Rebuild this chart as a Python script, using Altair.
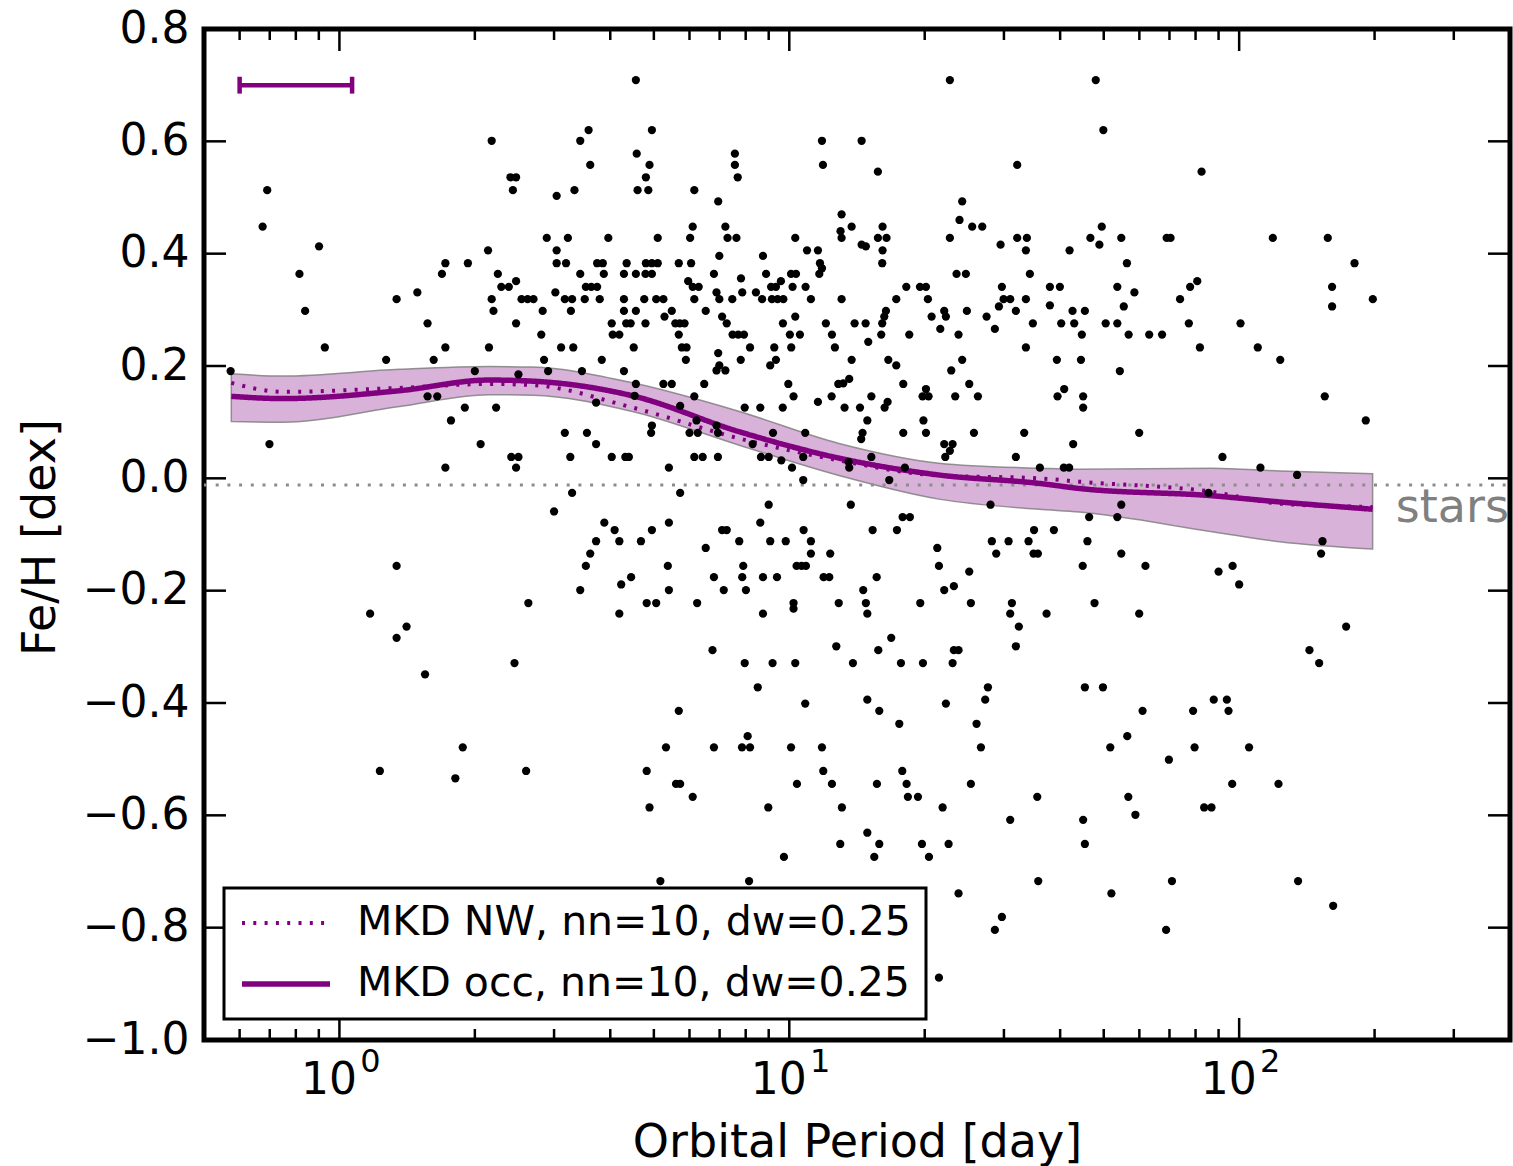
import altair as alt
import pandas as pd

# ---------------- scatter data: orbital period [day], [Fe/H] [dex] ----------------
period_a = [4.56, 2.18, 3.43, 3.58, 4.58, 3.61, 2.40, 2.47, 2.43, 3.04,
            3.33, 4.60, 0.691, 0.675, 0.901, 0.815, 0.839, 0.928, 1.34, 1.49,
            1.57, 1.69, 1.72, 1.93, 2.14, 2.25, 2.29, 2.38, 2.47, 2.18,
            2.20, 2.47, 2.54, 2.62, 2.70, 2.83, 2.81, 2.89, 3.04, 3.22,
            3.04, 3.19, 3.02, 3.17, 3.29, 3.27, 3.43, 3.53, 3.63, 3.74,
            3.51, 3.79, 3.74, 3.85, 3.87, 3.96, 4.35, 4.29, 4.56, 4.29,
            4.29, 4.56, 4.03, 4.05, 4.19, 4.34, 4.44, 4.51, 3.11, 3.31,
            2.85, 3.83, 1.27, 1.62, 1.72, 2.15]
feh_a = [0.709, 0.601, 0.601, 0.620, 0.578, 0.558, 0.536, 0.536, 0.513, 0.503,
         0.513, 0.513, 0.513, 0.448, 0.413, 0.364, 0.298, 0.233, 0.319, 0.331,
         0.276, 0.364, 0.383, 0.383, 0.406, 0.364, 0.341, 0.341, 0.351, 0.319,
         0.298, 0.276, 0.319, 0.319, 0.319, 0.298, 0.256, 0.428, 0.406, 0.428,
         0.383, 0.383, 0.331, 0.319, 0.319, 0.298, 0.364, 0.341, 0.341, 0.341,
         0.319, 0.319, 0.383, 0.383, 0.364, 0.428, 0.383, 0.364, 0.364, 0.319,
         0.298, 0.298, 0.276, 0.256, 0.256, 0.276, 0.276, 0.233, 0.233, 0.233,
         0.211, 0.211, 0.211, 0.211, 0.233, 0.233]

period_b = [22.75, 4.95, 4.89, 4.80, 4.86, 5.10, 6.15, 6.95, 6.10, 6.02,
            7.57, 7.57, 7.68, 7.21, 7.29, 7.63, 6.99, 5.68, 6.05, 4.80,
            4.95, 5.10, 4.79, 4.95, 6.80, 5.96, 6.10, 6.29, 4.76, 5.06,
            5.25, 6.15, 6.89, 6.99, 7.47, 7.81, 7.86, 6.52, 5.48, 5.28,
            4.79, 5.58, 5.71, 5.85, 5.68, 5.77, 5.91, 5.89, 7.09, 7.26,
            7.48, 7.70, 7.93, 8.18, 7.80, 6.95, 8.74, 8.88, 8.43, 8.70,
            9.11, 9.34, 9.58, 9.15, 9.42, 9.70, 9.68, 10.09, 10.35, 10.17,
            10.31, 10.03, 10.56, 10.10, 9.26, 9.34, 10.31, 10.87, 11.17, 10.95,
            11.58, 11.70, 11.82, 11.66, 11.82, 11.88, 13.07, 13.76, 13.00, 13.07,
            14.48, 14.48, 14.80, 15.74, 16.12, 15.74, 16.45, 16.12, 16.09, 13.07,
            12.06, 12.44, 12.63, 13.76, 13.97, 14.78, 14.98, 16.40, 16.26, 16.09,
            16.01, 16.60, 17.29, 18.20, 18.48, 19.52, 20.13, 20.33, 20.72, 21.66,
            22.10, 22.29, 22.75, 23.90, 24.23, 25.50, 26.85, 23.54, 24.69, 24.82,
            23.78, 24.23, 27.45, 28.64, 29.24, 29.69, 29.95, 30.98, 29.49, 32.11,
            32.11, 33.74, 33.57, 34.26, 33.57, 31.89, 34.79, 33.57, 37.96, 39.95,
            37.96, 39.34, 40.22, 41.98, 42.62, 42.99]
feh_b = [0.709, 0.620, 0.558, 0.536, 0.513, 0.428, 0.513, 0.493, 0.448, 0.428,
         0.578, 0.558, 0.536, 0.448, 0.428, 0.428, 0.396, 0.383, 0.383, 0.383,
         0.383, 0.383, 0.364, 0.364, 0.364, 0.351, 0.341, 0.341, 0.319, 0.319,
         0.319, 0.319, 0.331, 0.319, 0.319, 0.356, 0.331, 0.298, 0.298, 0.288,
         0.276, 0.276, 0.276, 0.276, 0.256, 0.233, 0.233, 0.211, 0.288, 0.276,
         0.256, 0.256, 0.256, 0.233, 0.211, 0.223, 0.396, 0.364, 0.331, 0.319,
         0.341, 0.341, 0.351, 0.319, 0.319, 0.319, 0.276, 0.364, 0.364, 0.341,
         0.428, 0.256, 0.256, 0.233, 0.233, 0.211, 0.288, 0.341, 0.319, 0.406,
         0.406, 0.383, 0.374, 0.364, 0.601, 0.558, 0.470, 0.448, 0.440, 0.428,
         0.601, 0.416, 0.413, 0.546, 0.448, 0.428, 0.428, 0.406, 0.383, 0.319,
         0.276, 0.256, 0.233, 0.211, 0.276, 0.276, 0.243, 0.298, 0.288, 0.276,
         0.256, 0.211, 0.319, 0.341, 0.256, 0.341, 0.341, 0.319, 0.288, 0.266,
         0.298, 0.288, 0.428, 0.460, 0.493, 0.448, 0.448, 0.364, 0.364, 0.298,
         0.256, 0.211, 0.288, 0.266, 0.306, 0.341, 0.319, 0.319, 0.416, 0.558,
         0.428, 0.428, 0.406, 0.364, 0.319, 0.298, 0.276, 0.233, 0.341, 0.341,
         0.308, 0.211, 0.276, 0.406, 0.298, 0.276]

period_c = [48.0, 49.9, 82.5, 49.5, 46.7, 48.9, 54.7, 69.0, 70.4, 56.3,
            53.6, 58.5, 55.4, 45.4, 50.5, 53.6, 44.7, 56.8, 63.1, 67.4,
            44.5, 73.9, 77.8, 80.7, 77.3, 81.8, 100.7, 110.0, 123.4, 118.8,
            157.4, 180.5, 160.9, 160.9, 198.2]
feh_c = [0.709, 0.620, 0.546, 0.448, 0.428, 0.416, 0.428, 0.428, 0.428, 0.383,
         0.341, 0.331, 0.306, 0.298, 0.276, 0.276, 0.256, 0.256, 0.256, 0.256,
         0.211, 0.319, 0.341, 0.351, 0.276, 0.233, 0.276, 0.233, 0.211, 0.428,
         0.428, 0.383, 0.341, 0.306, 0.319]

period_d = [0.573, 2.00, 2.50, 2.91, 3.46, 4.29, 4.56, 4.53, 1.57, 1.65,
            1.90, 2.23, 1.77, 2.06, 0.699, 1.72, 2.41, 2.50, 2.47, 3.17,
            3.55, 3.72, 3.26, 3.72, 4.03, 4.32, 4.40, 3.29, 3.00, 3.88,
            4.09, 3.72, 4.19, 3.61, 3.53, 3.43, 4.23, 4.45, 4.19, 2.63,
            2.45, 1.55, 1.34, 1.17, 1.34, 1.41]
feh_d = [0.191, 0.191, 0.185, 0.191, 0.191, 0.191, 0.168, 0.147, 0.146, 0.146,
         0.126, 0.126, 0.103, 0.061, 0.061, 0.019, 0.038, 0.038, 0.019, 0.081,
         0.081, 0.061, 0.038, 0.135, 0.038, 0.038, 0.038, -0.026, -0.059, -0.079,
         -0.092, -0.112, -0.112, -0.134, -0.156, -0.199, -0.189, -0.176, -0.241, -0.222,
         -0.329, -0.349, -0.156, -0.241, -0.284, -0.264]

period_e = [6.99, 6.89, 7.21, 9.07, 17.29, 22.91, 5.25, 5.48, 6.47, 9.95,
            12.85, 13.18, 13.59, 17.92, 25.12, 6.15, 10.22, 12.42, 15.22, 20.13,
            19.78, 20.40, 23.38, 26.26, 39.47, 40.84, 5.72, 7.96, 8.62, 9.67,
            11.58, 13.27, 14.36, 16.29, 16.54, 14.91, 19.87, 6.22, 4.95, 4.93,
            6.00, 6.26, 6.89, 6.94, 9.20, 10.85, 14.55, 14.45, 17.92, 20.13,
            25.73, 33.28, 42.76, 8.29, 22.10, 23.07, 22.75, 22.22, 6.15, 6.42,
            6.94, 8.65, 9.00, 9.60, 10.74, 10.14, 13.55, 13.59, 15.22, 5.40,
            18.07, 31.89, 36.06, 40.76, 41.89, 10.74, 16.68, 5.72, 9.00, 13.70,
            28.01, 5.40, 8.62, 4.95, 7.09, 7.26, 10.76, 15.32, 17.35, 17.86,
            18.54, 4.68, 7.74, 9.07, 9.82, 11.17, 11.17, 12.33, 6.52, 5.37,
            7.90, 10.38, 10.65, 10.89, 6.80, 7.86, 8.74, 9.39, 11.92, 12.27,
            15.64, 5.40, 7.15, 8.01, 4.82, 5.06, 6.24, 10.22, 10.22, 12.88,
            14.60, 14.80, 14.91, 8.74, 19.55, 21.33, 21.51, 22.10, 23.22, 25.12,
            25.33, 28.20, 30.72, 28.84, 34.03, 34.91, 35.70, 35.00, 38.74, 31.25,
            30.98, 32.38, 31.89, 37.32, 6.75, 7.96, 9.18, 10.31, 8.51, 12.72,
            15.77, 16.85, 13.85, 17.71, 19.82, 23.07, 23.22, 23.78, 27.64, 27.26,
            14.91, 10.85, 22.29]
feh_e = [0.201, 0.192, 0.192, 0.201, 0.201, 0.192, 0.168, 0.168, 0.168, 0.168,
         0.168, 0.169, 0.177, 0.168, 0.168, 0.146, 0.146, 0.146, 0.146, 0.159,
         0.146, 0.146, 0.146, 0.146, 0.146, 0.159, 0.129, 0.126, 0.126, 0.126,
         0.136, 0.126, 0.126, 0.126, 0.136, 0.103, 0.103, 0.103, 0.094, 0.081,
         0.081, 0.081, 0.094, 0.081, 0.081, 0.081, 0.081, 0.070, 0.081, 0.081,
         0.081, 0.081, 0.061, 0.061, 0.061, 0.061, 0.049, 0.038, 0.038, 0.038,
         0.038, 0.038, 0.038, 0.032, 0.038, 0.019, 0.029, 0.019, 0.038, 0.019,
         0.019, 0.038, 0.019, 0.019, 0.019, -0.003, -0.003, -0.026, -0.047, -0.047,
         -0.047, -0.079, -0.079, -0.092, -0.092, -0.092, -0.092, -0.092, -0.092, -0.069,
         -0.069, -0.112, -0.112, -0.112, -0.112, -0.112, -0.134, -0.134, -0.124, -0.156,
         -0.156, -0.156, -0.156, -0.156, -0.176, -0.176, -0.176, -0.176, -0.176, -0.176,
         -0.176, -0.199, -0.199, -0.199, -0.222, -0.222, -0.222, -0.222, -0.232, -0.222,
         -0.199, -0.222, -0.241, -0.241, -0.222, -0.124, -0.156, -0.199, -0.192, -0.166,
         -0.222, -0.112, -0.112, -0.134, -0.112, -0.134, -0.134, -0.092, -0.092, -0.222,
         -0.241, -0.264, -0.299, -0.241, -0.306, -0.329, -0.329, -0.329, -0.372, -0.299,
         -0.306, -0.284, -0.329, -0.329, -0.329, -0.329, -0.306, -0.306, -0.372, -0.394,
         -0.394, -0.401, -0.401]

period_f = [54.3, 45.0, 45.0, 155.0, 191.2, 59.95, 91.8, 111.5, 134.5, 85.5,
            54.7, 46.4, 53.6, 46.0, 54.7, 44.9, 61.9, 90.0, 96.7, 100.0,
            153.2, 152.1, 47.7, 59.95, 172.9, 143.3, 150.6, 45.4, 49.8, 87.8,
            93.9]
feh_f = [0.191, 0.146, 0.126, 0.146, 0.103, 0.081, 0.038, 0.019, 0.006, -0.026,
         -0.047, -0.069, -0.069, -0.112, -0.134, -0.156, -0.156, -0.166, -0.156, -0.189,
         -0.112, -0.134, -0.222, -0.241, -0.264, -0.306, -0.329, -0.372, -0.372, -0.394,
         -0.394]

period_g = [1.23, 1.81, 1.88, 2.60]
feh_g = [-0.521, -0.534, -0.479, -0.521]

period_h = [5.68, 15.85, 17.56, 26.08, 26.67, 8.08, 5.32, 6.80, 7.85, 8.18,
            10.09, 11.82, 4.82, 5.60, 5.72, 6.10, 4.89, 8.98, 10.40, 11.90,
            12.44, 13.09, 15.66, 17.83, 18.23, 18.35, 19.32, 21.92, 25.33, 30.98,
            35.58, 14.91, 12.98, 15.85, 15.45, 19.72, 20.44, 22.60, 9.73, 5.17,
            8.14, 23.78, 35.76, 29.69, 28.64, 21.51]
feh_h = [-0.414, -0.414, -0.437, -0.437, -0.479, -0.459, -0.479, -0.479, -0.479, -0.479,
         -0.479, -0.479, -0.521, -0.544, -0.544, -0.567, -0.586, -0.586, -0.544, -0.521,
         -0.544, -0.586, -0.544, -0.521, -0.544, -0.567, -0.567, -0.586, -0.544, -0.608,
         -0.567, -0.631, -0.651, -0.651, -0.674, -0.651, -0.674, -0.651, -0.674, -0.717,
         -0.717, -0.739, -0.717, -0.781, -0.804, -0.889]

period_i = [61.0, 79.0, 94.7, 56.4, 51.7, 79.6, 105.2, 69.8, 96.5, 122.3,
            56.7, 58.8, 83.6, 86.8, 45.0, 45.4, 70.9, 52.0, 135.2, 161.8,
            68.8]
feh_i = [-0.414, -0.414, -0.414, -0.459, -0.479, -0.479, -0.479, -0.501, -0.544, -0.544,
         -0.567, -0.599, -0.586, -0.586, -0.608, -0.651, -0.717, -0.739, -0.717, -0.761,
         -0.804]

# ---------------- smoothed curves ----------------
curve_period = [0.575, 0.748, 1.36, 2.15, 2.69, 4.48, 7.74, 12.9, 21.5, 35.9, 44.1, 87.1, 123.0, 198.0]
occ_curve = [0.146, 0.142, 0.156, 0.175, 0.173, 0.147, 0.083, 0.036, 0.006, -0.009, -0.018, -0.031, -0.042, -0.055]
nw_curve = [0.170, 0.154, 0.161, 0.168, 0.166, 0.126, 0.071, 0.032, 0.005, 0.000, -0.006, -0.024, -0.045, -0.051]
band_lo = [0.101, 0.100, 0.128, 0.149, 0.148, 0.119, 0.059, 0.005, -0.037, -0.055, -0.060, -0.095, -0.113, -0.126]
band_hi = [0.186, 0.182, 0.194, 0.199, 0.198, 0.170, 0.119, 0.062, 0.027, 0.018, 0.016, 0.018, 0.013, 0.008]

series_names = ["MKD NW, nn=10, dw=0.25", "MKD occ, nn=10, dw=0.25"]

# stellar reference level and label
stars_level = [-0.012]
stars_label_period = [223.0]
stars_label_feh = [-0.077]

# kernel-width bar (dw=0.25 dex in log period)
bar_lo = [0.6]
bar_hi = [1.067]
bar_feh = [0.70]

# axis ticks and labels
x_major = [1, 10, 100]
x_exponents = ["0", "1", "2"]
x_minor = [0.6, 0.7, 0.8, 0.9, 2, 3, 4, 5, 6, 7, 8, 9, 20, 30, 40, 50, 60, 70, 80, 90, 200, 300]
y_major = [-0.8, -0.6, -0.4, -0.2, 0.0, 0.2, 0.4, 0.6]
y_labels = [-1.0, -0.8, -0.6, -0.4, -0.2, 0.0, 0.2, 0.4, 0.6, 0.8]

# ---------------- build tables ----------------
frames = []
for p, f in [(period_a, feh_a), (period_b, feh_b), (period_c, feh_c), (period_d, feh_d),
             (period_e, feh_e), (period_f, feh_f), (period_g, feh_g), (period_h, feh_h),
             (period_i, feh_i)]:
    frames.append(pd.DataFrame({"period": p, "feh": f}))
points = pd.concat(frames, ignore_index=True)

curves = pd.DataFrame({
    "period": curve_period * 2,
    "feh": nw_curve + occ_curve,
    "series": [series_names[0]] * len(curve_period) + [series_names[1]] * len(curve_period),
})
band = pd.DataFrame({"period": curve_period, "lo": band_lo, "hi": band_hi})

W, H = 1306, 1011
PURPLE = "#800080"
FONT = "DejaVu Sans"

xscale = alt.Scale(type="log", domain=[0.5, 400], nice=False)
yscale = alt.Scale(domain=[-1.0, 0.8], nice=False, zero=False)

x_axis = alt.Axis(values=x_major, labelExpr="'10'", ticks=False, domain=False, grid=False,
                  labelFontSize=44, labelFont=FONT, labelColor="black", labelPadding=18,
                  labelOffset=-11, labelFlush=False, labelOverlap=False,
                  title="Orbital Period [day]", titleFontSize=46, titleFont=FONT,
                  titleFontWeight="normal", titleColor="black",
                  titleX=W / 2, titleY=116, titleAlign="center", titleBaseline="alphabetic")
y_axis = alt.Axis(values=y_labels, format=".1f", ticks=False, domain=False, grid=False,
                  labelFontSize=44, labelFont=FONT, labelColor="black", labelPadding=15,
                  labelFlush=False, labelOverlap=False,
                  title="Fe/H [dex]", titleFontSize=46, titleFont=FONT,
                  titleFontWeight="normal", titleColor="black", titleAngle=270,
                  titleX=-150, titleY=508, titleAlign="center", titleBaseline="alphabetic")

leg = alt.Legend(title=None, orient="none", legendX=20, legendY=859,
                 symbolType="stroke", symbolSize=7744, clipHeight=40,
                 labelFontSize=41, labelFont=FONT, labelColor="black", labelLimit=2000,
                 labelOffset=24, padding=15, rowPadding=20,
                 strokeColor="black", fillColor="white")


def X(field="period:Q"):
    return alt.X(field, scale=xscale, axis=x_axis)


def Y(field="feh:Q"):
    return alt.Y(field, scale=yscale, axis=y_axis)


band_layer = alt.Chart(band).mark_area(
    interpolate="monotone", fill=PURPLE, fillOpacity=0.3,
    stroke="#7a7a7a", strokeWidth=1.5, strokeOpacity=0.8
).encode(x=X(), y=Y("lo:Q"), y2="hi:Q")

stars_line = alt.Chart(pd.DataFrame({"feh": stars_level})).mark_rule(
    color="#8c8c8c", strokeWidth=3, strokeDash=[3, 8.7]
).encode(y=Y(), x=alt.value(0), x2=alt.value(W))

lines = alt.Chart(curves).mark_line(interpolate="monotone", strokeCap="butt").encode(
    x=X(), y=Y(),
    color=alt.Color("series:N", scale=alt.Scale(domain=series_names, range=[PURPLE, PURPLE]), legend=leg),
    strokeDash=alt.StrokeDash("series:N", scale=alt.Scale(domain=series_names, range=[[3, 8.3], [1, 0]]), legend=leg),
    strokeWidth=alt.StrokeWidth("series:N", scale=alt.Scale(domain=series_names, range=[4, 5.5]), legend=leg),
)

pts = alt.Chart(points).mark_circle(size=68, color="black", opacity=1).encode(x=X(), y=Y())

bar = alt.Chart(pd.DataFrame({"period": bar_lo, "period2": bar_hi, "feh": bar_feh})).mark_rule(
    color=PURPLE, strokeWidth=4.5
).encode(x=X(), x2="period2:Q", y=Y())

caps = alt.Chart(pd.DataFrame({"period": bar_lo + bar_hi,
                               "lo": [bar_feh[0] - 0.015] * 2,
                               "hi": [bar_feh[0] + 0.015] * 2})).mark_rule(
    color=PURPLE, strokeWidth=4.5
).encode(x=X(), y=Y("lo:Q"), y2="hi:Q")

stars_text = alt.Chart(pd.DataFrame({"period": stars_label_period, "feh": stars_label_feh,
                                     "label": ["stars"]})).mark_text(
    align="left", baseline="alphabetic", fontSize=46, font=FONT, color="#808080"
).encode(x=X(), y=Y(), text="label:N")

# exponents of the power-of-ten tick labels
exps = alt.Chart(pd.DataFrame({"period": x_major, "exp": x_exponents})).mark_text(
    align="center", baseline="alphabetic", fontSize=32, font=FONT, color="black", dx=31
).encode(x=X(), y=alt.value(H + 32), text="exp:N")


def xticks(vals, length, top):
    ch = alt.Chart(pd.DataFrame({"period": vals})).mark_rule(color="black", strokeWidth=2.5)
    if top:
        return ch.encode(x=X(), y=alt.value(0), y2=alt.value(length))
    return ch.encode(x=X(), y=alt.value(H), y2=alt.value(H - length))


def yticks(vals, length, right):
    ch = alt.Chart(pd.DataFrame({"feh": vals})).mark_rule(color="black", strokeWidth=2.5)
    if right:
        return ch.encode(y=Y(), x=alt.value(W), x2=alt.value(W - length))
    return ch.encode(y=Y(), x=alt.value(0), x2=alt.value(length))


chart = alt.layer(
    band_layer, stars_line, lines, pts, bar, caps, stars_text, exps,
    xticks(x_major, 22, False), xticks(x_minor, 11, False),
    xticks(x_major, 22, True), xticks(x_minor, 11, True),
    yticks(y_major, 22, False), yticks(y_major, 22, True),
).properties(
    width=W, height=H,
    padding={"left": 204, "top": 29, "right": 3, "bottom": 126},
    autosize=alt.AutoSizeParams(type="none"),
).configure(
    font=FONT
).configure_view(
    stroke="black", strokeWidth=5
).configure_legend(
    strokeWidth=3
)

chart.save("out.html", embed_options={"renderer": "svg", "actions": False})
